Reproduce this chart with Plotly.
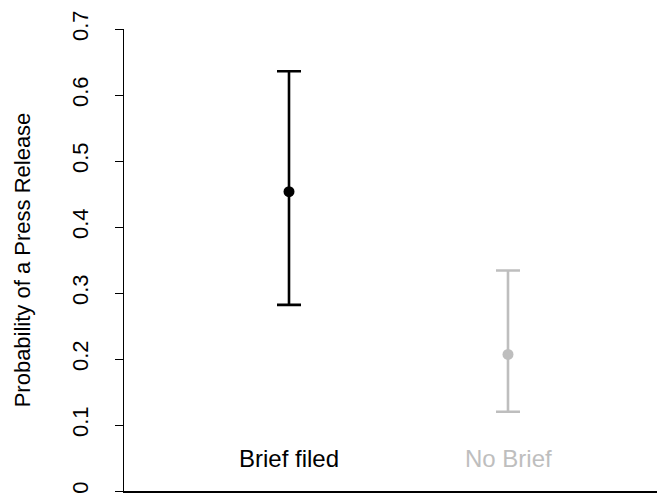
import plotly.graph_objects as go

groups = ["Brief filed", "No Brief"]
group_x = [1, 2]
estimate = [0.4535, 0.207]
lower = [0.282, 0.120]
upper = [0.636, 0.334]
colors = ["#000000", "#BEBEBE"]
y_ticks = [0, 0.1, 0.2, 0.3, 0.4, 0.5, 0.6, 0.7]
y_tick_labels = ["0", "0.1", "0.2", "0.3", "0.4", "0.5", "0.6", "0.7"]
label_y = 0.05

FONT = "Liberation Sans, Arial, sans-serif"

# page body has an 8px default margin, so the figure is drawn 8px in
OFF = 8

fig = go.Figure()
for x, g, est, lo, hi, c in zip(group_x, groups, estimate, lower, upper, colors):
    fig.add_trace(go.Scatter(
        x=[x], y=[est], mode="markers",
        marker=dict(color=c, size=11),
        error_y=dict(type="data", symmetric=False,
                     array=[hi - est], arrayminus=[est - lo],
                     color=c, thickness=2.6, width=12),
        showlegend=False, name=g,
    ))
    fig.add_annotation(x=x, y=label_y, text=g, showarrow=False,
                       font=dict(family=FONT, size=24, color=c),
                       xanchor="center", yanchor="middle")

fig.update_layout(
    width=665 - OFF, height=493 - OFF,
    margin=dict(l=124 - OFF, r=0, t=29 - OFF, b=2, autoexpand=False),
    paper_bgcolor="white", plot_bgcolor="white",
    font=dict(family=FONT, size=22, color="black"),
    xaxis=dict(range=[0.24658, 2.7169], showgrid=False, zeroline=False,
               showticklabels=False, ticks="", showline=True,
               linecolor="black", linewidth=1.5),
    yaxis=dict(range=[0, 0.7], tickvals=y_ticks, ticktext=y_tick_labels,
               tickangle=-90, ticks="outside", ticklen=8, tickwidth=1,
               tickcolor="black", showline=True, linecolor="black",
               linewidth=1, showgrid=False, zeroline=False,
               ticklabelstandoff=18, ticklabeloverflow="allow",
               title=dict(text="Probability of a Press Release",
                          font=dict(size=22), standoff=31)),
)

fig.write_html("out.html")
